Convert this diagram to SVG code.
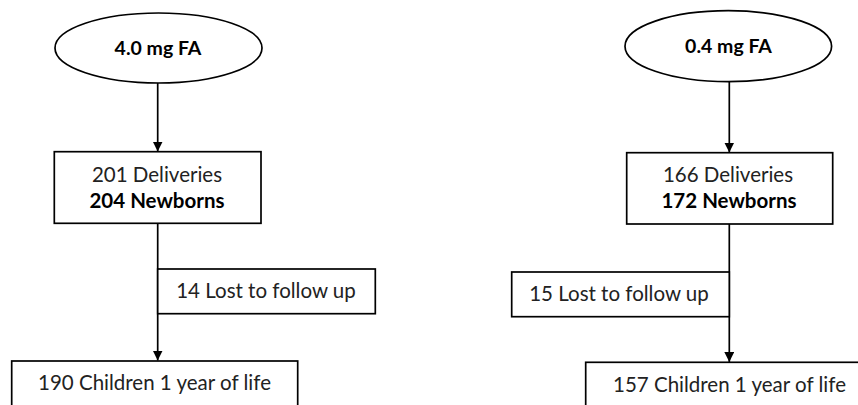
<svg xmlns="http://www.w3.org/2000/svg" width="858" height="405" viewBox="0 0 858 405">
<style>
.s{fill:#fff;stroke:#000;stroke-width:1.7}
.t{font-family:Lato,"Liberation Sans",sans-serif;font-size:20.5px;fill:#222;text-anchor:middle}
.b{font-weight:bold;fill:#000}
.e{font-size:19.5px}
.c{stroke:#000;stroke-width:1.7;fill:none}
</style>
<defs>
<marker id="ah" markerWidth="11" markerHeight="10" refX="10" refY="5" orient="auto" markerUnits="userSpaceOnUse">
<path d="M0,0 L10,5 L0,10 z" fill="#000"/>
</marker>
</defs>
<g id="connectors">
<line class="c" x1="157.7" y1="83" x2="157.7" y2="151.5" marker-end="url(#ah)"/>
<line class="c" x1="157.7" y1="223.3" x2="157.7" y2="360.5" marker-end="url(#ah)"/>
<line class="c" x1="729.3" y1="82" x2="729.3" y2="152.5" marker-end="url(#ah)"/>
<line class="c" x1="729.3" y1="224" x2="729.3" y2="362" marker-end="url(#ah)"/>
</g>
<g id="n1"><ellipse class="s" cx="158.5" cy="48" rx="103.5" ry="35"/><text class="t b e" x="158" y="54.5">4.0 mg FA</text></g>
<g id="n2"><rect class="s" x="54.3" y="151.7" width="206.7" height="71.6"/><text class="t" x="157" y="182">201 Deliveries</text><text class="t b" x="157" y="208">204 Newborns</text></g>
<g id="n3"><rect class="s" x="157.7" y="269" width="217.6" height="44.7"/><text class="t" x="266" y="298">14 Lost to follow up</text></g>
<g id="n4"><rect class="s" x="11.7" y="361" width="286" height="60"/><text class="t" x="154.5" y="390">190 Children 1 year of life</text></g>
<g id="n5"><ellipse class="s" cx="728.3" cy="46.2" rx="103.3" ry="35.5"/><text class="t b e" x="728.5" y="52.5">0.4 mg FA</text></g>
<g id="n6"><rect class="s" x="626.7" y="152.7" width="206" height="71.3"/><text class="t" x="728" y="182">166 Deliveries</text><text class="t b" x="729" y="208">172 Newborns</text></g>
<g id="n7"><rect class="s" x="511.7" y="272" width="217.6" height="44.7"/><text class="t" x="619" y="301">15 Lost to follow up</text></g>
<g id="n8"><rect class="s" x="585.7" y="362.3" width="290" height="60"/><text class="t" x="729.5" y="392">157 Children 1 year of life</text></g>
</svg>
